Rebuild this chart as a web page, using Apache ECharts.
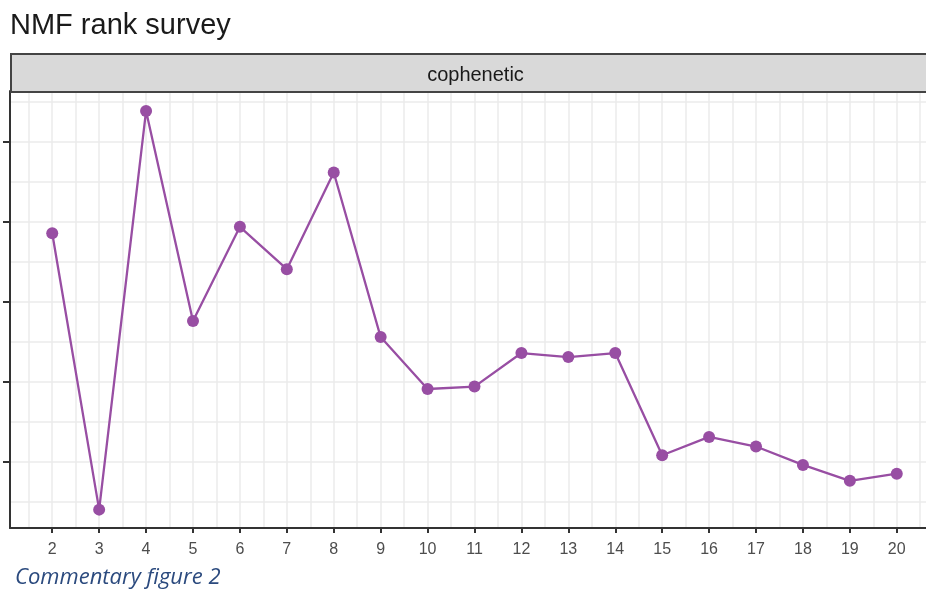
<!DOCTYPE html>
<html>
<head>
<meta charset="utf-8">
<title>NMF rank survey</title>
<script src="https://cdn.jsdelivr.net/npm/echarts@6/dist/echarts.min.js"></script>
<style>
  html, body { margin: 0; padding: 0; background: #ffffff; }
  #chart { width: 926px; height: 592px; }
</style>
</head>
<body>
<div id="chart"></div>
<script>
// Factorization rank and the cophenetic correlation measured at each rank
const ranks = [2, 3, 4, 5, 6, 7, 8, 9, 10, 11, 12, 13, 14, 15, 16, 17, 18, 19, 20];
const cophenetic = [
  0.9486, 0.9140, 0.9639, 0.9376, 0.9494, 0.9441, 0.9562, 0.9356, 0.9291, 0.9294,
  0.9336, 0.9331, 0.9336, 0.9208, 0.9231, 0.9219, 0.9196, 0.9176, 0.9185
];

// Axis breaks: major ticks and the minor gridline positions between them
const xTicks = [2, 3, 4, 5, 6, 7, 8, 9, 10, 11, 12, 13, 14, 15, 16, 17, 18, 19, 20];
const xMinor = [1.5, 2.5, 3.5, 4.5, 5.5, 6.5, 7.5, 8.5, 9.5, 10.5, 11.5, 12.5, 13.5,
                14.5, 15.5, 16.5, 17.5, 18.5, 19.5, 20.5];
const yTicks = [0.92, 0.93, 0.94, 0.95, 0.96];
const yMinor = [0.915, 0.925, 0.935, 0.945, 0.955, 0.965];

const facetLabel = 'cophenetic';

const xRange = [1.1, 20.9];
const yRange = [0.9117, 0.9664];

const gridColor = '#ebebeb';
const inkColor = '#333333';

const chart = echarts.init(document.getElementById('chart'), null, { renderer: 'canvas' });

const gridLine = { show: true, lineStyle: { color: gridColor, width: 1.5 } };

chart.setOption({
  backgroundColor: '#ffffff',
  animation: false,
  title: [
    {
      text: 'NMF rank survey',
      left: 5,
      top: 6,
      textStyle: { fontFamily: 'Liberation Sans, Arial, sans-serif', fontSize: 29, fontWeight: 'normal', color: '#1a1a1a' }
    },
    {
      text: 'Commentary figure 2',
      left: 10,
      top: 562,
      textStyle: { fontFamily: 'Open Sans, sans-serif', fontSize: 22, fontStyle: 'italic', fontWeight: 'normal', color: '#2b4a7e' }
    }
  ],
  graphic: [
    {
      // facet strip above the panel
      type: 'group',
      left: 10,
      top: 53,
      z: 100,
      children: [
        {
          type: 'rect',
          z: 100,
          shape: { x: 0, y: 0, width: 940, height: 38 },
          style: { fill: '#d9d9d9', stroke: '#444444', lineWidth: 2 }
        },
        {
          type: 'text',
          z: 101,
          x: 464.5,
          y: 21,
          style: {
            text: facetLabel,
            fill: '#1a1a1a',
            font: '20px "Liberation Sans", Arial, sans-serif',
            textAlign: 'center',
            textVerticalAlign: 'middle'
          }
        }
      ]
    }
  ],
  grid: { left: 10, width: 929, top: 91, bottom: 64, containLabel: false, outerBoundsMode: 'none' },
  xAxis: [
    {
      type: 'value',
      min: xRange[0],
      max: xRange[1],
      position: 'bottom',
      axisLine: { show: true, onZero: false, lineStyle: { color: inkColor, width: 2 } },
      axisTick: { show: true, customValues: xTicks, length: 5, lineStyle: { color: inkColor, width: 2 } },
      axisLabel: {
        show: true,
        customValues: xTicks,
        margin: 14,
        color: '#4d4d4d',
        fontSize: 16,
        fontFamily: 'Liberation Sans, Arial, sans-serif'
      },
      splitLine: gridLine
    },
    {
      type: 'value',
      min: xRange[0],
      max: xRange[1],
      position: 'top',
      axisLine: { show: false },
      axisTick: { show: false, customValues: xMinor },
      axisLabel: { show: false },
      splitLine: gridLine
    }
  ],
  yAxis: [
    {
      type: 'value',
      min: yRange[0],
      max: yRange[1],
      position: 'left',
      axisLine: { show: true, onZero: false, lineStyle: { color: inkColor, width: 2 } },
      axisTick: { show: true, customValues: yTicks, length: 7, lineStyle: { color: inkColor, width: 2 } },
      axisLabel: { show: false },
      splitLine: gridLine
    },
    {
      type: 'value',
      min: yRange[0],
      max: yRange[1],
      position: 'right',
      axisLine: { show: false },
      axisTick: { show: false, customValues: yMinor },
      axisLabel: { show: false },
      splitLine: gridLine
    }
  ],
  series: [
    {
      type: 'line',
      name: facetLabel,
      xAxisIndex: 0,
      yAxisIndex: 0,
      data: ranks.map((r, i) => [r, cophenetic[i]]),
      symbol: 'circle',
      symbolSize: 12,
      itemStyle: { color: '#984ea3' },
      lineStyle: { color: '#984ea3', width: 2.3 },
      z: 5
    }
  ]
});
</script>
</body>
</html>
